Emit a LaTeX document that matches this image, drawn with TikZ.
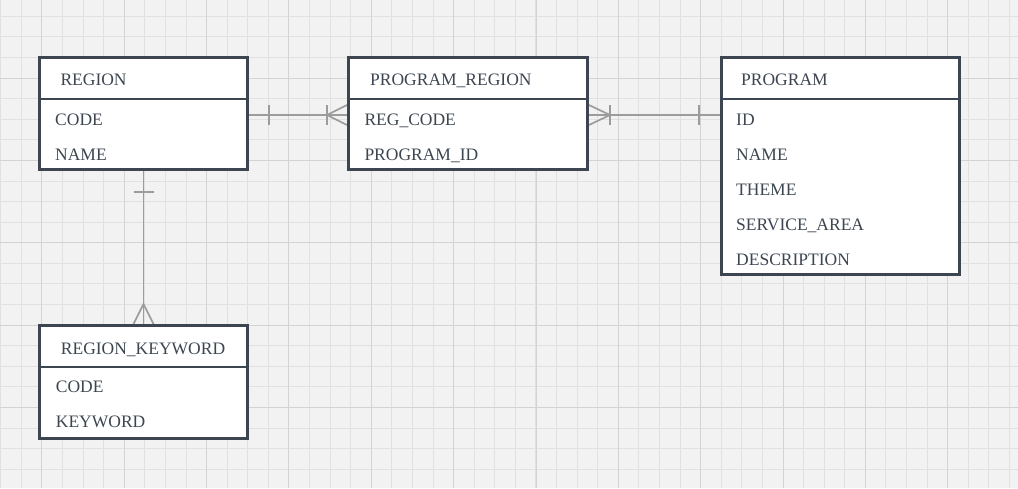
\documentclass[tikz,border=0pt]{standalone}
\usepackage{fontspec}
\setmainfont{Liberation Serif}
\usetikzlibrary{calc}
\definecolor{canvas}{HTML}{F2F2F2}
\definecolor{gridminor}{HTML}{E1E1E1}
\definecolor{gridmajor}{HTML}{D3D3D3}
\definecolor{ink}{HTML}{3D4650}
\definecolor{linkgray}{HTML}{9C9C9C}
\begin{document}
\begin{tikzpicture}[x=1pt,y=-1pt,
  tablebox/.style={draw=ink, line width=2pt, fill=white, rectangle,
    anchor=north west, inner sep=0pt, minimum width=#1},
  divider/.style={draw=ink, line width=2pt},
  field/.style={anchor=base west, inner sep=0pt, text=ink,
    font=\fontsize{17.5}{20}\selectfont},
  link/.style={draw=linkgray, line width=1.7pt},
  minorline/.style={draw=gridminor, line width=1pt},
  majorline/.style={draw=gridmajor, line width=1.2pt}]

% canvas and grid paper, lines snapped to whole units
\useasboundingbox (0,0) rectangle (1018,488);
\fill[canvas] (0,0) rectangle (1018,488);
\begin{scope}
\clip (0,0) rectangle (1018,488);
\foreach \i in {-2,...,47} {
  \pgfmathsetmacro\gx{round(41.4+20.5875*\i)+0.5}
  \draw[minorline] (\gx,0) -- (\gx,488);
}
\foreach \j in {-3,...,19} {
  \pgfmathsetmacro\gy{round(77.6+20.5875*\j)+0.5}
  \draw[minorline] (0,\gy) -- (1018,\gy);
}
\foreach \i in {0,...,11} {
  \pgfmathsetmacro\gx{round(41.4+82.35*\i)+0.5}
  \draw[majorline] (\gx,0) -- (\gx,488);
}
\foreach \j in {-1,...,4} {
  \pgfmathsetmacro\gy{round(77.6+82.35*\j)+0.5}
  \draw[majorline] (0,\gy) -- (1018,\gy);
}
\end{scope}

% tables
\node[tablebox=207pt, minimum height=111pt] (region) at (39,57) {};
\draw[divider] ($(region.north west)+(0,41.5)$) -- ($(region.north east)+(0,41.5)$);
\node[field] (region-title) at (60.3,85.7) {REGION};
\node[field] (region-code) at (55,125) {CODE};
\node[field] (region-name) at (55,160) {NAME};

\node[tablebox=238pt, minimum height=111pt] (pr) at (348,57) {};
\draw[divider] ($(pr.north west)+(0,41.5)$) -- ($(pr.north east)+(0,41.5)$);
\node[field] (pr-title) at (370,85.7) {PROGRAM\_REGION};
\node[field] (pr-regcode) at (364.3,125) {REG\_CODE};
\node[field] (pr-progid) at (364.3,160) {PROGRAM\_ID};

\node[tablebox=237pt, minimum height=216pt] (program) at (721,57) {};
\draw[divider] ($(program.north west)+(0,41.5)$) -- ($(program.north east)+(0,41.5)$);
\node[field] (program-title) at (741,85.7) {PROGRAM};
\node[field] (program-id) at (736,125) {ID};
\node[field] (program-name) at (736,160) {NAME};
\node[field] (program-theme) at (736,195) {THEME};
\node[field] (program-area) at (736,230) {SERVICE\_AREA};
\node[field] (program-desc) at (736,265) {DESCRIPTION};

\node[tablebox=207pt, minimum height=112pt] (rk) at (39,325) {};
\draw[divider] ($(rk.north west)+(0,41.5)$) -- ($(rk.north east)+(0,41.5)$);
\node[field] (rk-title) at (60.7,354) {REGION\_KEYWORD};
\node[field] (rk-code) at (55.7,392.7) {CODE};
\node[field] (rk-keyword) at (55.7,427.7) {KEYWORD};

% relationships
\coordinate (lvl) at (0,115);

% REGION (one) -- PROGRAM_REGION (many)
\draw[link] (region.east |- lvl) -- (pr.west |- lvl);
\draw[link] ($(region.east |- lvl)+(21,-10)$) -- ++(0,20);
\draw[link] ($(pr.west |- lvl)+(-1,-10)$) -- ($(pr.west |- lvl)+(-21,0)$) -- ($(pr.west |- lvl)+(-1,10)$);
\draw[link] ($(pr.west |- lvl)+(-21,-10)$) -- ++(0,20);

% PROGRAM_REGION (many) -- PROGRAM (one)
\draw[link] (pr.east |- lvl) -- (program.west |- lvl);
\draw[link] ($(pr.east |- lvl)+(1,-10)$) -- ($(pr.east |- lvl)+(22,0)$) -- ($(pr.east |- lvl)+(1,10)$);
\draw[link] ($(pr.east |- lvl)+(22,-10)$) -- ++(0,20);
\draw[link] ($(program.west |- lvl)+(-21.7,-10)$) -- ++(0,20);

% REGION (one) -- REGION_KEYWORD (many)
\draw[link] (region.south) -- (rk.north);
\draw[link] ($(region.south)+(-10,22.3)$) -- ++(20,0);
\draw[link] ($(rk.north)+(-10,-1)$) -- ($(rk.north)+(0,-21)$) -- ($(rk.north)+(10,-1)$);

% table outlines drawn over the link ends
\draw[ink, line width=2pt] (region.north west) rectangle (region.south east);
\draw[ink, line width=2pt] (pr.north west) rectangle (pr.south east);
\draw[ink, line width=2pt] (program.north west) rectangle (program.south east);
\draw[ink, line width=2pt] (rk.north west) rectangle (rk.south east);
\end{tikzpicture}
\end{document}
